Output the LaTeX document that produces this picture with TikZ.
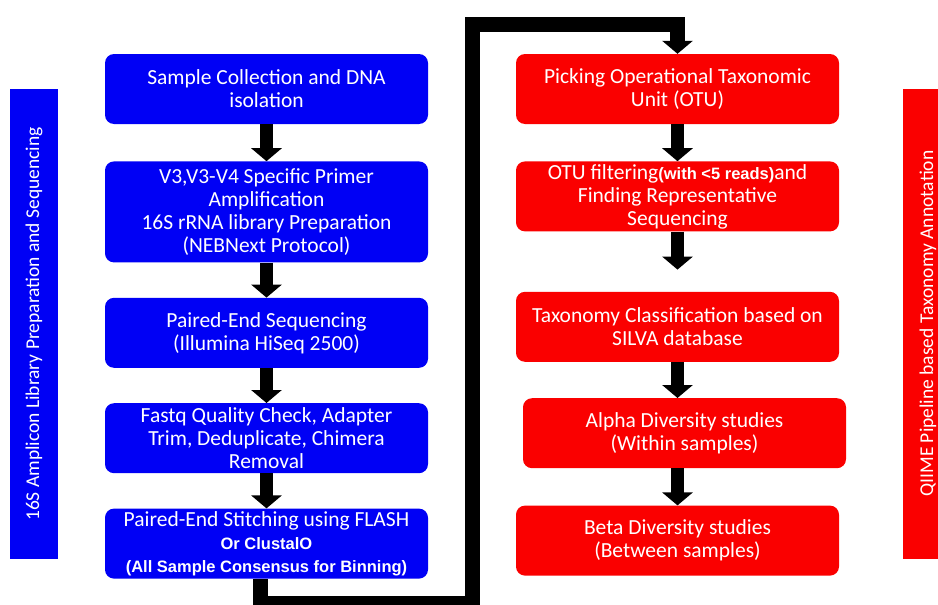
\documentclass[tikz,border=0pt]{standalone}
\usepackage{fontspec}
\setmainfont{Carlito}
\newfontfamily\arialfont{Liberation Sans}
\usetikzlibrary{positioning,arrows.meta}
\definecolor{stepblue}{RGB}{0,0,245}
\definecolor{stepred}{RGB}{250,0,0}
\newcommand{\smallbold}{\arialfont\bfseries\fontsize{16.5}{18}\selectfont}

\begin{document}
\begin{tikzpicture}[
    node distance=35pt,
    every node/.style={rectangle, rounded corners=9pt, align=center, text=white, font=\fontsize{21.5}{23}\selectfont, minimum width=323pt, minimum height=70pt, inner xsep=4pt, inner ysep=2pt},
    bluebox/.style={fill=stepblue},
    redbox/.style={fill=stepred},
    sidebar/.style={rotate=90, rounded corners=0pt, minimum width=470pt, font=\fontsize{19.5}{22}\selectfont},
    arrow/.style={-{Triangle[width=30pt,length=13pt]}, line width=13pt},
    link/.style={line width=15pt, line join=miter}
]
\useasboundingbox (0pt,0pt) rectangle (938pt,-605pt);

% left column
\node[bluebox] (sample) at (266.5pt,-89pt) {Sample Collection and DNA\\isolation};
\node[bluebox, minimum height=101pt] (primer) [below=37pt of sample] {V3,V3-V4 Specific Primer\\Amplification\\16S rRNA library Preparation\\(NEBNext Protocol)};
\node[bluebox] (pairseq) [below=of primer] {Paired-End Sequencing\\(Illumina HiSeq 2500)};
\node[bluebox] (qc) [below=of pairseq] {Fastq Quality Check, Adapter\\Trim, Deduplicate, Chimera\\Removal};
\node[bluebox] (stitch) [below=of qc] {Paired-End Stitching using FLASH\\{\smallbold Or ClustalO}\\{\smallbold (All Sample Consensus for Binning)}};

% right column
\node[redbox] (otu) at (677.5pt,-89pt) {Picking Operational Taxonomic\\Unit (OTU)};
\node[redbox] (filter) [below=37pt of otu] {OTU filtering{\smallbold(with <5 reads)}and\\Finding Representative\\Sequencing};
\node[redbox] (taxa) [below=60pt of filter] {Taxonomy Classification based on\\SILVA database};
\node[redbox] (alpha) [below=36pt of taxa, xshift=7pt] {Alpha Diversity studies\\(Within samples)};
\node[redbox] (beta) [below=37pt of alpha, xshift=-7pt] {Beta Diversity studies\\(Between samples)};

% side labels
\node[sidebar, fill=stepblue, minimum height=48pt] (libside) at (34pt,-324pt) {16S Amplicon Library Preparation and Sequencing};
\node[sidebar, fill=stepred, minimum height=50pt] (qiimeside) at (928pt,-323.5pt) {QIIME Pipeline based Taxonomy Annotation};

\draw[arrow] (sample) -- (primer);
\draw[arrow] (primer) -- (pairseq);
\draw[arrow] (pairseq) -- (qc);
\draw[arrow] (qc) -- (stitch);

\draw[arrow] (otu) -- (filter);
\draw[arrow, shorten >=22pt] (filter) -- (taxa);
\draw[arrow] (taxa.south) -- (taxa.south |- alpha.north);
\draw[arrow] (beta.north |- alpha.south) -- (beta.north);

% connector between the columns
\coordinate (turn) at (472pt,-24pt);
\draw[link, -{Triangle[width=30pt,length=13pt]}] ([xshift=-6pt]stitch.south) -- ++(0,-25pt) -| (turn) -| (otu.north);

\end{tikzpicture}
\end{document}
